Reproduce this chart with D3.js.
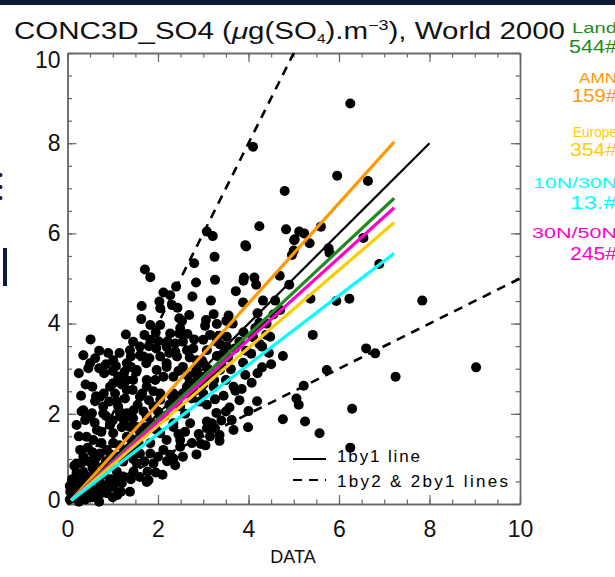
<!DOCTYPE html>
<html>
<head>
<meta charset="utf-8">
<script src="https://cdn.jsdelivr.net/npm/d3@7"></script>
<style>
  body { margin: 0; background: #fff; }
  svg { display: block; font-family: "Liberation Sans", Arial, sans-serif; }
</style>
</head>
<body>
<svg width="615" height="577"></svg>
<script>
var points = [
  [4.10,7.92],[4.80,6.94],[4.24,6.16],[4.83,6.09],[3.08,6.04],[3.21,5.94],[3.93,5.74],[3.95,5.71],
  [3.25,5.48],[5.02,5.87],[5.12,6.04],[5.00,5.62],[2.80,5.34],[1.71,5.20],[1.83,5.03],
  [6.25,8.88],[5.96,7.28],[6.64,7.16],[5.23,6.00],[5.01,5.85],[5.35,5.78],[5.60,6.15],[4.96,5.52],
  [5.77,5.67],[5.79,5.57],[6.54,5.90],[6.89,5.32],[4.90,4.86],[5.37,4.55],[5.94,4.50],[6.23,4.55],
  [7.84,4.51],[5.42,3.75],[4.76,3.28],[6.60,3.45],[6.80,3.34],[5.73,2.97],[7.25,2.82],[9.03,3.03],
  [5.22,2.62],[5.06,2.34],[5.11,2.20],[6.29,2.11],[4.76,1.88],[5.25,1.83],[5.57,1.57],[6.25,1.25],
  [3.26,4.97],[3.90,5.02],[3.89,4.95],[4.13,5.02],[4.17,4.86],[4.69,5.06],[3.72,4.72],[3.17,4.51],
  [3.88,4.47],[4.32,4.51],[4.59,4.51],[3.23,4.21],[3.56,4.18],[3.51,4.06],[4.20,4.23],[3.06,4.08],
  [3.04,3.95],[3.30,3.99],[3.65,4.00],[4.24,4.02],[3.89,3.81],[3.34,3.73],[3.52,3.71],[4.39,3.75],
  [4.48,3.71],[3.37,3.54],[3.51,3.50],[4.24,3.55],[4.30,3.49],
  [4.30,3.03],[3.88,3.13],[4.06,3.33],[3.61,2.99],[3.93,2.86],[4.07,2.69],[3.67,2.60],[3.71,2.51],
  [3.26,2.32],[4.19,2.28],[3.58,2.14],[4.00,2.06],[3.29,2.02],[3.63,1.86],[3.08,1.83],[3.19,1.79],
  [3.08,1.68],[3.26,1.68],[3.67,1.64],[3.99,1.70],[3.36,1.53],[3.36,1.40],[2.95,1.33],[3.06,2.81],
  [3.24,2.75],[2.97,3.18],
  [2.84,4.91],[2.12,4.69],[2.40,4.82],[2.27,4.63],[2.76,4.60],[2.03,4.49],[1.64,4.39],[2.05,4.34],
  [2.31,4.41],[2.43,4.35],[1.63,4.10],[1.83,3.97],[2.47,4.12],[2.53,4.06],[2.69,4.19],[0.51,3.65],
  [1.29,3.76],[2.47,3.78],[2.65,3.77],[2.01,3.61],[2.21,3.61],[1.80,3.50],[2.38,3.56],[2.78,3.45],
  [1.96,3.45],
  [0.61,3.23],[0.50,3.12],[0.46,3.01],[0.70,3.01],[0.81,2.90],[1.07,3.06],[1.40,3.27],[1.60,3.30],
  [1.74,3.12],[1.81,3.23],[1.40,3.04],[1.26,2.93],[1.52,2.93],[2.05,3.27],[2.19,3.04],[2.38,3.38],
  [1.01,2.68],[0.63,2.39],[0.61,2.28],[0.92,2.27],[1.27,2.34],[1.44,2.53],[1.60,2.38],[1.75,2.60],
  [1.94,2.75],[2.12,2.82],[2.34,2.82],[2.55,3.04],[2.82,2.90],[3.00,3.12],[3.04,2.82],[0.31,2.05],
  [0.54,2.01],[0.39,1.86],[0.79,2.01],[1.12,2.16],[1.31,2.01],[0.42,1.49],[0.57,1.42],[0.94,1.75],
  [1.01,1.57],[1.38,1.71],[1.68,2.05],[1.90,2.16],[2.05,2.45],[2.34,2.45],[2.64,2.60],[2.75,2.34],
  [3.00,2.45],[3.08,2.20],[2.05,1.94],[1.83,1.35],[1.83,1.12],[2.49,2.16],[2.71,1.79],[2.34,1.79],
  [2.19,1.42],[2.49,1.42],[2.27,1.09],[2.38,0.86],[1.77,0.72],[1.79,0.53],[1.38,0.27],[1.18,0.27],
  [1.46,0.72],[1.53,0.90],[1.23,0.94],[1.09,0.72],[1.35,1.20],[1.57,1.35],[0.20,0.90],[0.35,1.05],
  [0.13,0.53],[0.28,0.38],[0.57,0.68],[0.72,0.46],[0.87,0.24],[0.50,0.24],[0.65,1.05],[0.87,1.20],
  [0.79,0.83],[1.01,0.38],[0.06,0.27],[0.17,0.16],
  [3.30,3.28],[2.31,2.38],[2.64,2.53],[2.86,2.68],[2.93,2.27],[3.23,2.60],[3.37,2.97],[2.05,1.57],
  [2.34,1.71],[1.60,1.12],[1.90,0.90],[2.12,1.20],[2.49,1.27],[2.34,1.01],[1.23,0.61],[0.94,0.83],
  [0.72,1.12],[1.01,1.35],[1.31,1.49],[1.53,1.71],[1.75,1.94],[2.05,2.31],[1.46,2.08],[1.16,1.94],
  [0.94,1.79],[0.65,1.64],[0.28,1.20],[0.50,1.94],[0.35,2.08],[0.79,2.16],[1.09,2.27],[1.31,2.53],
  [0.94,2.60],[0.72,2.38],[1.12,2.82],[1.75,2.75],[1.97,2.97],[2.19,3.12],[2.42,3.27],[2.64,3.41],
  [2.86,3.19],[3.08,3.41],[3.00,3.64],[2.19,3.49],[1.68,3.27],[1.53,2.97],[1.31,3.12],[1.60,3.49],
  [1.83,3.64],[2.27,3.78],[2.49,3.90],[2.05,3.97],[1.38,3.41],[1.01,3.19],
  [0.05,0.10],[0.10,0.20],[0.20,0.15],[0.15,0.35],[0.30,0.20],[0.25,0.50],[0.40,0.30],[0.35,0.70],
  [0.50,0.45],[0.45,0.15],[0.60,0.30],[0.10,0.55],[0.20,0.70],[0.05,0.40],[1.75,0.49],[1.20,0.46],
  [0.79,0.38],
  [0.30,0.35],[0.45,0.55],[0.55,0.80],[0.70,0.70],[0.85,0.95],[0.95,1.10],[1.10,1.05],[1.15,1.30],
  [1.25,1.15],[1.40,1.45],[1.50,1.25],[1.65,1.55],[1.70,1.70],[1.85,1.80],[1.95,1.65],[2.00,2.05],
  [2.15,1.95],[2.25,2.20],[2.40,2.30],[2.55,2.45],[2.60,2.00],[2.70,2.70],[2.80,2.50],[2.90,2.85],
  [3.00,2.65],[3.10,3.00],[3.20,2.90],[3.40,3.10],[3.45,3.35],[3.55,3.25],[3.70,3.45],[3.80,3.60],
  [3.95,3.40],[4.10,3.70],[4.15,3.90],[4.40,4.00],[4.55,4.20],[4.70,4.30],
  [1.40,0.55],[1.60,0.60],[1.95,0.70],[2.10,0.65],[2.20,0.95],[2.55,1.05],[2.60,1.60],[2.75,1.35],
  [2.85,1.10],[2.90,1.55],[3.05,1.30],[3.15,1.50],[2.45,1.55],[2.00,1.05],[1.70,0.95],[1.45,1.00],
  [0.25,1.50],[0.20,1.75],[0.30,2.40],[0.40,2.65],[0.25,2.90],[0.35,3.30],[0.70,3.40],[0.90,3.35],
  [0.55,2.60],[0.80,2.45],[1.05,2.45],[1.20,2.65],[1.15,2.05],[0.85,1.95],[0.60,1.80],[0.45,1.25],
  [0.55,1.15],[0.75,1.35],[0.75,1.60],[1.00,1.85],[1.20,1.70],[1.25,1.85],[1.45,1.90],[1.60,1.60],
  [1.55,2.20],[1.80,2.30],[1.90,2.50],[1.65,2.45],[1.45,2.75],[1.30,2.75],[1.00,2.95],[0.85,3.10],
  [1.15,3.35],[1.45,3.60],[1.70,3.75],[1.95,3.80],[2.25,3.35],[2.55,3.60],[2.80,3.65],[2.70,3.25],
  [2.45,2.95],[2.65,2.85],[2.85,3.00],[3.15,3.75],[3.30,3.60],
  [0.10,0.30],[0.20,0.45],[0.35,0.55],[0.50,0.60],[0.65,0.55],[0.80,0.65],[0.95,0.55],[1.05,0.55],
  [0.15,0.85],[0.30,0.90],[0.45,0.95],[0.60,0.90],[0.25,0.05],[0.40,0.10],[0.55,0.15],[0.70,0.20],
  [0.70,0.05],[1.00,0.15],[1.10,0.20],[0.90,0.45],
  [3.45,2.40],[3.80,2.30],[3.50,2.75],[3.85,2.55],[4.20,2.90],[4.50,3.10],[4.45,3.35],[3.40,1.85],
  [3.50,2.05]
];

// regional fits: name, count label, colour, fitted model value at the end of the line
var regions = ['Land', 'AMN', 'Europe', '10N/30N', '30N/50N'];
var counts = ['544#', '159#', '354#', '13.#', '245#'];
var regionColors = ['#1f8a1f', '#ff9900', '#ffcc00', '#00ffff', '#ff00cc'];
var fitStart = [0.08, 0.08];       // x, y where every fit starts
var fitEndX = 7.22;
var fitEndY = [6.78, 8.03, 6.24, 5.56, 6.57];
// drawing order, back to front
var fitOrder = ['AMN', 'Land', '30N/50N', 'Europe', '10N/30N'];

var refLines = [
  { name: '1by1', from: [0, 0], to: [8, 8], dash: null },
  { name: '2by1', from: [0, 0], to: [5, 10], dash: '9,7' },
  { name: '1by2', from: [0, 0], to: [10, 5], dash: '9,7' }
];
var majorTicks = [0, 2, 4, 6, 8, 10];

var svg = d3.select('svg');

// bits of the slide behind the plot
svg.append('rect').attr('x', 0).attr('y', 0).attr('width', 615).attr('height', 5).attr('fill', '#0c1a3c');
svg.append('rect').attr('x', 3).attr('y', 248).attr('width', 4).attr('height', 38).attr('fill', '#0c1a3c');
[175, 187, 198].forEach(function(cy) {
  svg.append('circle').attr('cx', 0.5).attr('cy', cy).attr('r', 2).attr('fill', '#0c1a3c');
});

var xScale = d3.scaleLinear().domain([0, 10]).range([67.5, 520]);
var yScale = d3.scaleLinear().domain([0, 10]).range([504, 53]);
var minorTicks = d3.range(0, 10.01, 0.5);

function frame(axisFn, transform, labels, padding) {
  var scale = (axisFn === d3.axisBottom || axisFn === d3.axisTop) ? xScale : yScale;
  var gMinor = svg.append('g').attr('transform', transform)
    .call(axisFn(scale).tickValues(minorTicks).tickSizeInner(-4.5).tickSizeOuter(0).tickFormat(''));
  var gMajor = svg.append('g').attr('transform', transform)
    .call(axisFn(scale).tickValues(majorTicks).tickSizeInner(-9).tickSizeOuter(0).tickPadding(padding)
      .tickFormat(labels ? d3.format('d') : ''));
  [gMinor, gMajor].forEach(function(g) {
    g.select('.domain').attr('stroke', '#666').attr('stroke-width', 1.4);
    g.selectAll('.tick line').attr('stroke', '#666').attr('stroke-width', 1.2);
  });
  gMajor.selectAll('text').attr('font-size', 23).attr('fill', '#111')
    .attr('font-family', '"Liberation Sans", Arial, sans-serif');
  return gMajor;
}

frame(d3.axisBottom, 'translate(0,504)', true, 17);
var yAxis = frame(d3.axisLeft, 'translate(67.5,0)', true, 7);
// end labels sit a little inside the frame
yAxis.selectAll('.tick text').attr('dy', d => d === 10 ? '0.62em' : d === 0 ? '0.15em' : '0.32em');
frame(d3.axisTop, 'translate(0,53)', false, 0);
frame(d3.axisRight, 'translate(520,0)', false, 0);

var plot = svg.append('g');

plot.selectAll('circle.pt')
  .data(points)
  .enter()
  .append('circle')
  .attr('class', 'pt')
  .attr('cx', d => xScale(d[0]))
  .attr('cy', d => yScale(d[1]))
  .attr('r', 5)
  .attr('fill', '#000');

refLines.forEach(function(l) {
  plot.append('line')
    .attr('x1', xScale(l.from[0])).attr('y1', yScale(l.from[1]))
    .attr('x2', xScale(l.to[0])).attr('y2', yScale(l.to[1]))
    .attr('stroke', '#000')
    .attr('stroke-width', l.dash ? 2.6 : 2.2)
    .attr('stroke-dasharray', l.dash);
});

fitOrder.forEach(function(name) {
  var i = regions.indexOf(name);
  plot.append('line')
    .attr('x1', xScale(fitStart[0])).attr('y1', yScale(fitStart[1]))
    .attr('x2', xScale(fitEndX)).attr('y2', yScale(fitEndY[i]))
    .attr('stroke', regionColors[i])
    .attr('stroke-width', 3.2);
});

// legend
svg.append('line').attr('x1', 293).attr('x2', 326).attr('y1', 459).attr('y2', 459)
  .attr('stroke', '#000').attr('stroke-width', 2);
svg.append('line').attr('x1', 293).attr('x2', 326).attr('y1', 480).attr('y2', 480)
  .attr('stroke', '#000').attr('stroke-width', 2).attr('stroke-dasharray', '9,7');
svg.append('text').attr('x', 337).attr('y', 462).attr('font-size', 17)
  .attr('textLength', 83).attr('lengthAdjust', 'spacing').text('1by1 line');
svg.append('text').attr('x', 337).attr('y', 487).attr('font-size', 17)
  .attr('textLength', 171).attr('lengthAdjust', 'spacing').text('1by2 & 2by1 lines');

// title
var title = svg.append('text').attr('x', 14).attr('y', 38.5).attr('font-size', 23)
  .attr('fill', '#111').attr('textLength', 551).attr('lengthAdjust', 'spacingAndGlyphs');
title.append('tspan').text('CONC3D_SO4  (');
title.append('tspan').attr('font-style', 'italic').text('\u03bc');
title.append('tspan').text('g(SO');
title.append('tspan').attr('font-size', 12).attr('dy', 4).text('4');
title.append('tspan').attr('dy', -4).text(').m');
title.append('tspan').attr('font-size', 14).attr('dy', -9).text('\u22123');
title.append('tspan').attr('dy', 9).text('),  World  2000');

svg.append('text').attr('x', 293).attr('y', 563).attr('font-size', 18)
  .attr('text-anchor', 'middle').attr('fill', '#111').text('DATA');

// region labels on the right, running off the page edge as in the original
var nameX = [572, 579, 573, 533, 532];
var nameY = [33, 83, 137, 188, 238];
var countX = [569, 572, 570, 570, 570];
var countY = [53, 102, 156, 209, 260];
regions.forEach(function(name, i) {
  svg.append('text').attr('x', nameX[i]).attr('y', nameY[i])
    .attr('font-size', i === 0 ? 14 : 15).attr('fill', regionColors[i])
    .attr('textLength', 617 - nameX[i]).attr('lengthAdjust', 'spacingAndGlyphs').text(name);
  svg.append('text').attr('x', countX[i]).attr('y', countY[i])
    .attr('font-size', 19).attr('fill', regionColors[i])
    .attr('textLength', 617 - countX[i]).attr('lengthAdjust', 'spacingAndGlyphs').text(counts[i]);
});
</script>
</body>
</html>
